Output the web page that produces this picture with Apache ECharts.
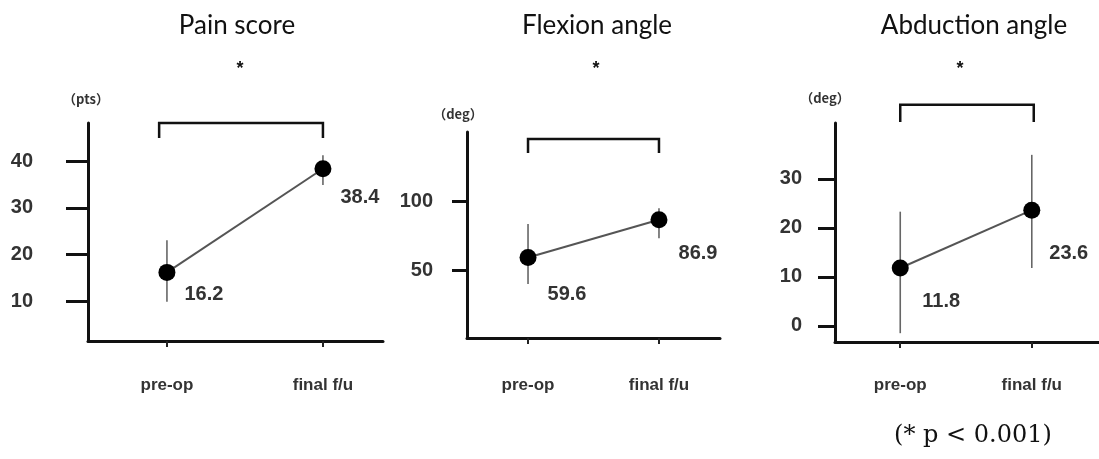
<!DOCTYPE html>
<html>
<head>
<meta charset="utf-8">
<script src="https://cdn.jsdelivr.net/npm/echarts@6/dist/echarts.min.js"></script>
<style>html,body{margin:0;padding:0;background:#fff;}#c{width:1099px;height:459px;}</style>
</head>
<body>
<div id="c"></div>
<script>
// ---- data ----
const panelTitles = ['Pain score', 'Flexion angle', 'Abduction angle'];
const categories = ['pre-op', 'final f/u'];
const units = ['（pts）', '（deg）', '（deg）'];
const painMean = [16.2, 38.4];
const painLow = [9.9, 34.9];
const painHigh = [23.1, 41.3];
const flexMean = [59.6, 86.9];
const flexLow = [40.3, 73.5];
const flexHigh = [83.8, 95.2];
const abdMean = [11.8, 23.6];
const abdLow = [-1.5, 11.8];
const abdHigh = [23.3, 34.9];
const painTicks = [10, 20, 30, 40];
const flexTicks = [50, 100];
const abdTicks = [0, 10, 20, 30];
const sigMark = '*';
const footnote = '(* p < 0.001)';
// bracket: [left x, right x, top y, leg-bottom y] in data units
const painBracket = [-0.05, 1, 48.2, 45];
const flexBracket = [0, 1, 145.4, 135.3];
const abdBracket = [0, 1.015, 45.1, 41.6];

// ---- layout / style ----
const panels = [
  {mean: painMean, low: painLow, high: painHigh, ticks: painTicks, bracket: painBracket,
   grid: {left: 88, top: 123, width: 295, height: 218}, x: [-0.506, 1.385], y: [1.5, 48.2],
   tickLen: 22, labelMargin: 55, xMargin: 36, namePad: [0, 4, 17, 0],
   offsets: [[37, 22], [37, 29]], titleX: 237, starX: 240},
  {mean: flexMean, low: flexLow, high: flexHigh, ticks: flexTicks, bracket: flexBracket,
   grid: {left: 467, top: 132, width: 253, height: 206}, x: [-0.466, 1.466], y: [1.2, 150.5],
   tickLen: 15, labelMargin: 34, xMargin: 39, namePad: [0, 18, 11, 0],
   offsets: [[39, 37], [39, 34]], titleX: 597, starX: 596},
  {mean: abdMean, low: abdLow, high: abdHigh, ticks: abdTicks, bracket: abdBracket,
   grid: {left: 835, top: 123, width: 264, height: 219}, x: [-0.496, 1.511], y: [-3.3, 41.4],
   tickLen: 17, labelMargin: 33, xMargin: 35, namePad: [0, 20, 18, 0],
   offsets: [[41, 33], [37, 43]], titleX: 974, starX: 960}
];

const grids = [], xAxes = [], yAxes = [], series = [], graphics = [];
panels.forEach((p, i) => {
  grids.push(Object.assign({containLabel: false}, p.grid));
  xAxes.push({
    type: 'value', gridIndex: i, min: p.x[0], max: p.x[1],
    axisLine: {show: true, onZero: false, lineStyle: {color: '#111', width: 3}},
    splitLine: {show: false},
    axisTick: {show: true, customValues: [0, 1], length: 6, lineStyle: {color: '#222', width: 2}},
    axisLabel: {customValues: [0, 1], formatter: v => categories[Math.round(v)],
      margin: p.xMargin, fontFamily: 'Liberation Sans', fontSize: 17, fontWeight: 'bold', color: '#333'}
  });
  yAxes.push({
    type: 'value', gridIndex: i, min: p.y[0], max: p.y[1],
    name: units[i], nameLocation: 'end', nameGap: 0,
    nameTextStyle: {fontFamily: 'Noto Sans CJK JP', fontSize: 13, fontWeight: 'bold', color: '#333',
      align: 'center', verticalAlign: 'bottom', padding: p.namePad},
    axisLine: {show: true, onZero: false, lineStyle: {color: '#111', width: 3}},
    splitLine: {show: false},
    axisTick: {show: true, customValues: p.ticks, length: p.tickLen, lineStyle: {color: '#111', width: 3}},
    axisLabel: {customValues: p.ticks, margin: p.labelMargin,
      fontFamily: 'Liberation Sans', fontSize: 20, fontWeight: 'bold', color: '#333'}
  });
  // error bars
  series.push({
    type: 'custom', xAxisIndex: i, yAxisIndex: i, z: 2, silent: true,
    data: p.mean.map((m, k) => [k, p.low[k], p.high[k]]),
    renderItem: (params, api) => {
      const a = api.coord([api.value(0), api.value(1)]);
      const b = api.coord([api.value(0), api.value(2)]);
      return {type: 'line', shape: {x1: a[0], y1: a[1], x2: b[0], y2: b[1]},
        style: {stroke: '#666', lineWidth: 1.6}};
    }
  });
  // mean line + points
  series.push({
    type: 'line', xAxisIndex: i, yAxisIndex: i, z: 3, silent: true,
    symbol: 'circle', symbolSize: 17,
    itemStyle: {color: '#000'},
    lineStyle: {color: '#555', width: 2},
    data: p.mean.map((m, k) => ({value: [k, m], label: {offset: p.offsets[k]}})),
    label: {show: true, position: 'inside', formatter: d => d.value[1].toFixed(1),
      fontFamily: 'Liberation Sans', fontSize: 20, fontWeight: 'bold', color: '#333'}
  });
  // significance bracket
  series.push({
    type: 'custom', xAxisIndex: i, yAxisIndex: i, z: 2, silent: true, clip: false,
    data: [p.bracket],
    renderItem: (params, api) => {
      const l = api.coord([api.value(0), api.value(3)]);
      const lt = api.coord([api.value(0), api.value(2)]);
      const rt = api.coord([api.value(1), api.value(2)]);
      const r = api.coord([api.value(1), api.value(3)]);
      return {type: 'polyline', shape: {points: [l, lt, rt, r]},
        style: {stroke: '#111', lineWidth: 2.5, fill: null}};
    }
  });
  graphics.push({type: 'text', x: p.titleX, y: 26, style: {text: panelTitles[i], align: 'center',
    verticalAlign: 'middle', fontFamily: 'Lato', fontSize: 26, fill: '#111'}});
  graphics.push({type: 'text', x: p.starX, y: 69, style: {text: sigMark, align: 'center',
    verticalAlign: 'middle', fontFamily: 'Liberation Sans', fontSize: 18, fontWeight: 'bold', fill: '#111'}});
});
graphics.push({type: 'text', x: 973, y: 436, style: {text: footnote, align: 'center',
  verticalAlign: 'middle', fontFamily: 'DejaVu Serif', fontSize: 24, fill: '#111'}});

const chart = echarts.init(document.getElementById('c'), null, {renderer: 'canvas'});
chart.setOption({
  animation: false,
  backgroundColor: '#fff',
  grid: grids, xAxis: xAxes, yAxis: yAxes, series: series, graphic: graphics
});
</script>
</body>
</html>
